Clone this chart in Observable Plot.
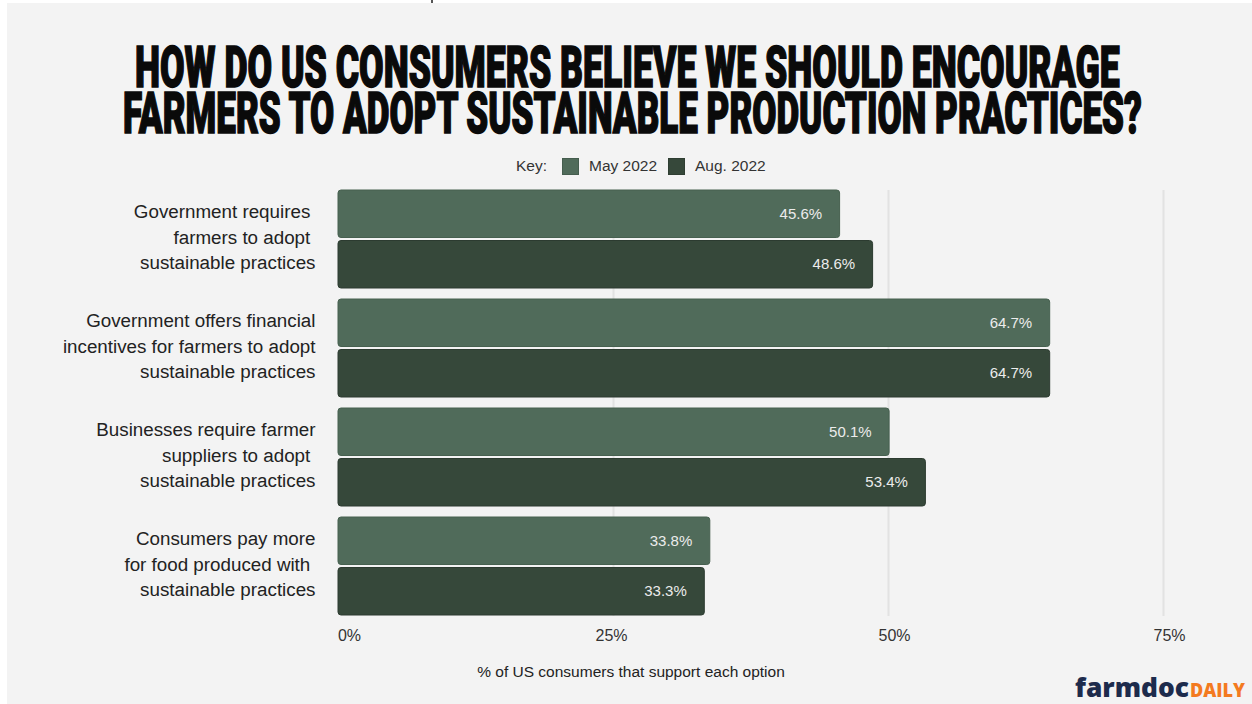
<!DOCTYPE html>
<html>
<head>
<meta charset="utf-8">
<script src="https://cdn.jsdelivr.net/npm/d3@7"></script>
<script src="https://cdn.jsdelivr.net/npm/@observablehq/plot@0.6"></script>
<style>
  html, body { margin: 0; padding: 0; background: #ffffff; }
  body { width: 1252px; height: 704px; position: relative; overflow: hidden; font-family: "Liberation Sans", Arial, sans-serif; }
  #bg { position: absolute; left: 7px; top: 3px; width: 1245px; height: 701px; background: #f3f3f3; }
  #tick { position: absolute; left: 431px; top: 0; width: 2px; height: 3px; background: #555; }
  #title { position: absolute; left: 0; top: 0; }
  .leg { position: absolute; font-size: 15.5px; color: #333; line-height: 18px; top: 157px; white-space: nowrap; }
  .sw { position: absolute; top: 158px; width: 17px; height: 17px; box-sizing: border-box; }
  #chart { position: absolute; left: 0; top: 180px; }
  #xtitle { position: absolute; left: 0; width: 1262px; text-align: center; top: 663px; font-size: 15.5px; color: #222; }
  #logo { position: absolute; left: 0; top: 660px; }
</style>
</head>
<body>
<div id="bg"></div>
<div id="tick"></div>
<svg id="title" width="1252" height="150"></svg>
<div id="legend"></div>
<div id="chart"></div>
<div id="xtitle"></div>
<svg id="logo" width="1252" height="44"></svg>
<script>
// ---- data ----
const titleLines = [
  "HOW DO US CONSUMERS BELIEVE WE SHOULD ENCOURAGE",
  "FARMERS TO ADOPT SUSTAINABLE PRODUCTION PRACTICES?"
];
const categories = [
  "Government requires\u00a0\nfarmers to adopt\u00a0\nsustainable practices",
  "Government offers financial\nincentives for farmers to adopt\nsustainable practices",
  "Businesses require farmer\nsuppliers to adopt\u00a0\nsustainable practices",
  "Consumers pay more\nfor food produced with\u00a0\nsustainable practices"
];
const seriesNames = ["May 2022", "Aug. 2022"];
const may2022 = [45.6, 64.7, 50.1, 33.8];
const aug2022 = [48.6, 64.7, 53.4, 33.3];
const xTicks = [0, 25, 50, 75];
const gridTicks = [25, 50, 75];
const xAxisTitle = "% of US consumers that support each option";
const legendKey = "Key:";
const colors = ["#506b5a", "#36483a"];

// ---- title (natural width, then horizontally scaled to fit) ----
const tsvg = d3.select("#title");
const titleSpecs = [{x: 135, y: 87, len: 985}, {x: 123, y: 133, len: 1019}];
titleLines.forEach((t, i) => {
  const g = tsvg.append("g");
  const txt = g.append("text")
    .attr("x", 0).attr("y", 0)
    .attr("font-family", "Roboto, 'Liberation Sans', sans-serif")
    .attr("font-weight", 900)
    .attr("font-size", 58)
    .attr("fill", "#0a0a0a")
    .attr("stroke", "#0a0a0a")
    .attr("stroke-width", 1.3)
    .text(t);
  const w = txt.node().getComputedTextLength();
  const sx = titleSpecs[i].len / w;
  g.attr("transform", `translate(${titleSpecs[i].x},${titleSpecs[i].y}) scale(${sx},1)`);
  txt.attr("stroke-width", 1.3 / Math.sqrt(sx));
});

// ---- legend ----
const leg = document.getElementById("legend");
const keyEl = document.createElement("div");
keyEl.className = "leg"; keyEl.style.left = "516px"; keyEl.textContent = legendKey;
leg.appendChild(keyEl);
const swLeft = [562, 668], lbLeft = [589, 695];
seriesNames.forEach((s, i) => {
  const sw = document.createElement("div");
  sw.className = "sw"; sw.style.left = swLeft[i] + "px";
  sw.style.background = colors[i]; sw.style.border = "1px solid " + d3.color(colors[i]).darker(0.4);
  leg.appendChild(sw);
  const lb = document.createElement("div");
  lb.className = "leg"; lb.style.left = lbLeft[i] + "px"; lb.textContent = s;
  leg.appendChild(lb);
});

// ---- chart ----
const rows = [];
categories.forEach((c, i) => {
  rows.push({category: c, series: seriesNames[0], value: may2022[i]});
  rows.push({category: c, series: seriesNames[1], value: aug2022[i]});
});
const mayRows = rows.filter(d => d.series === seriesNames[0]);
const augRows = rows.filter(d => d.series === seriesNames[1]);

const tickOpts = {tickFormat: d => d + "%", tickSize: 0, tickPadding: 13, fontSize: 16, fill: "#333", label: null};

const plot = Plot.plot({
  width: 1252,
  height: 520,
  marginTop: 10,
  marginBottom: 84,
  marginLeft: 338,
  marginRight: 89,
  style: {background: "transparent", fontFamily: "'Liberation Sans', Arial, sans-serif"},
  x: {domain: [0, 75]},
  y: {domain: categories, paddingInner: 0.1, paddingOuter: 0},
  marks: [
    Plot.ruleX(gridTicks, {stroke: "#e2e2e2", strokeWidth: 2}),
    Plot.barX(mayRows, {x: "value", y: "category", fill: colors[0], insetBottom: 50.5, rx: 3,
      stroke: "#46604f", strokeWidth: 1}),
    Plot.barX(augRows, {x: "value", y: "category", fill: colors[1], insetTop: 50.5, rx: 3,
      stroke: "#2c3b30", strokeWidth: 1}),
    Plot.text(mayRows, {x: "value", y: "category", text: d => d.value.toFixed(1) + "%",
      textAnchor: "end", dx: -18, dy: -25, fill: "#ececec", fontSize: 15}),
    Plot.text(augRows, {x: "value", y: "category", text: d => d.value.toFixed(1) + "%",
      textAnchor: "end", dx: -18, dy: 25, fill: "#ececec", fontSize: 15}),
    Plot.axisY({tickSize: 0, tickPadding: 23, fontSize: 18.8, lineHeight: 1.356, dy: -4, fill: "#222", label: null}),
    Plot.axisX({...tickOpts, ticks: xTicks.slice(0, 1), dx: 11}),
    Plot.axisX({...tickOpts, ticks: xTicks.slice(1, 2), dx: -2}),
    Plot.axisX({...tickOpts, ticks: xTicks.slice(2), dx: 6})
  ]
});
document.getElementById("chart").appendChild(plot);

document.getElementById("xtitle").textContent = xAxisTitle;

// ---- logo ----
const lsvg = d3.select("#logo");
const lt = lsvg.append("text").attr("y", 37).attr("font-family", "'Open Sans', Lato, sans-serif").attr("font-weight", 800);
lt.append("tspan").attr("x", 1075).attr("font-size", 27).attr("fill", "#1d2b4c")
  .attr("textLength", 114).attr("lengthAdjust", "spacingAndGlyphs").text("farmdoc");
lt.append("tspan").attr("x", 1190).attr("font-size", 19).attr("fill", "#f37a1f")
  .attr("textLength", 55).attr("lengthAdjust", "spacingAndGlyphs").text("DAILY");
</script>
</body>
</html>
